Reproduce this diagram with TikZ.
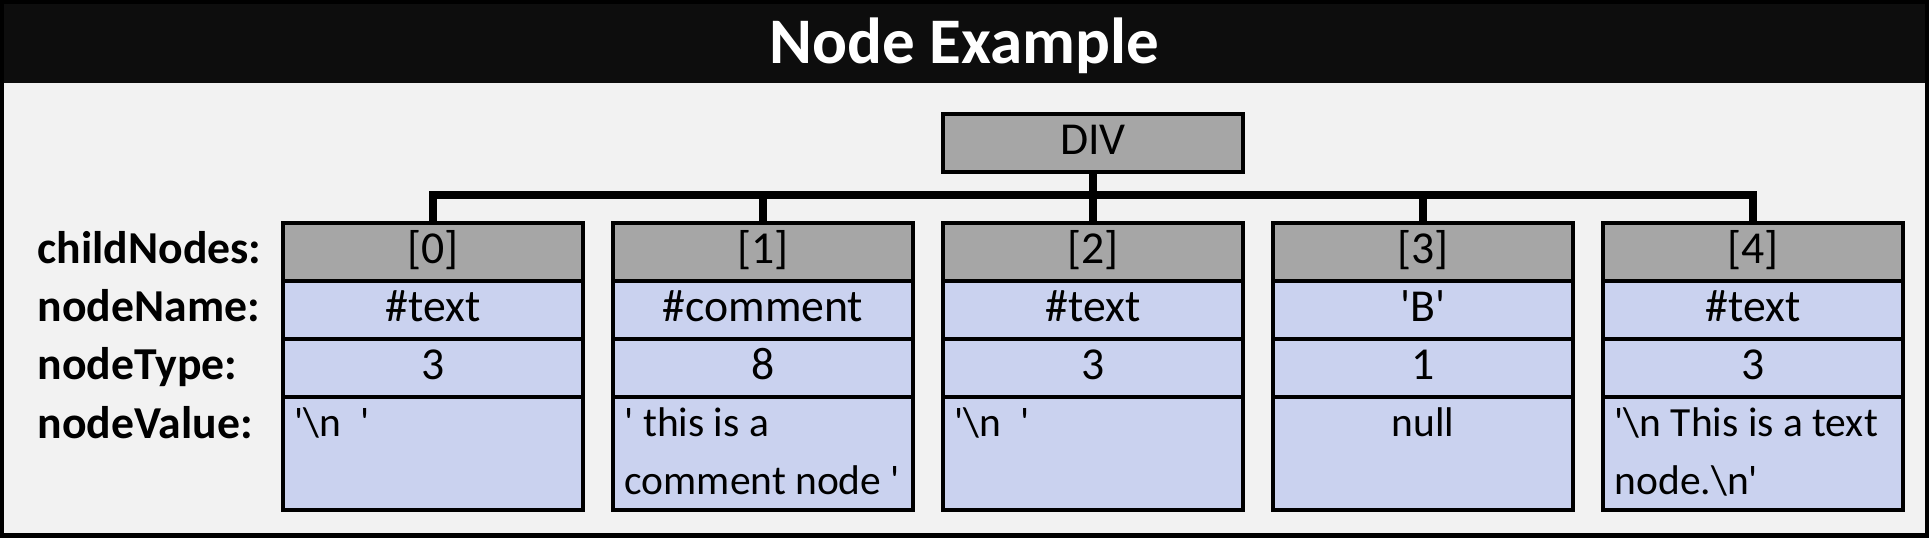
\documentclass[tikz,border=0pt]{standalone}
\usepackage{fontspec}
\setmainfont{Carlito}
\newcommand{\squote}{\textquotesingle}
\newcommand{\bsl}{\textbackslash}
\definecolor{headgray}{HTML}{A6A6A6}
\definecolor{cellblue}{HTML}{CAD2EF}
\definecolor{panelbg}{HTML}{F2F2F2}
\definecolor{titlebg}{HTML}{0D0D0D}

\begin{document}
\begin{tikzpicture}[x=0.01cm,y=-0.01cm,
    cell/.style={draw=black,line width=0.04cm,minimum width=3cm,minimum height=0.58cm,inner sep=0pt,
      text height=10pt,text depth=3.74pt,font=\fontsize{13}{16.5}\selectfont},
    head/.style={cell,fill=headgray},
    row/.style={cell,fill=cellblue},
    valbox/.style={draw=black,line width=0.04cm,fill=cellblue,minimum width=3cm,minimum height=1.13cm,inner sep=0pt},
    valtext/.style={anchor=base west,inner sep=0pt,text width=2.9cm,align=flush left,font=\fontsize{11.8}{16.5}\selectfont},
    lbl/.style={anchor=base west,inner sep=0pt,font=\fontsize{13}{16}\selectfont\bfseries},
    link/.style={line width=0.08cm}]
            \def\pitch{330}
            \def\first{433}

            \useasboundingbox (0,0) rectangle (1929,538);
            \fill[black] (0,0) rectangle (1929,538);
            \fill[titlebg] (4,4) rectangle (1925,83);
            \fill[panelbg] (4,83) rectangle (1925,533);

            \node[anchor=base,inner sep=0pt,text=white,font=\fontsize{18.5}{22}\selectfont\bfseries] (title) at (964.5,63) {Node Example};

            \node[head] (div) at (1093,143) {DIV};

            \foreach \i/\nm/\ty in {0/\#text/3,1/\#comment/8,2/\#text/3,3/{\squote B\squote}/1,4/\#text/3} {
                \pgfmathsetmacro{\cx}{\first+\pitch*\i}
                \node[head] (h\i) at (\cx,252) {[\i]};
                \node[row] (n\i) at (\cx,310) {\nm};
                \node[row] (t\i) at (\cx,368) {\ty};
                \node[valbox] (v\i) at (\cx,453.5) {};
            }

            \node[valtext] (vt0) at ([xshift=0.13cm,yshift=-0.41cm]v0.north west) {\squote\bsl n\ \ \squote};
            \node[valtext] (vt1) at ([xshift=0.13cm,yshift=-0.41cm]v1.north west) {\squote\ this is a\\comment node \squote};
            \node[valtext] (vt2) at ([xshift=0.13cm,yshift=-0.41cm]v2.north west) {\squote\bsl n\ \ \squote};
            \node[anchor=base,inner sep=0pt,font=\fontsize{11.8}{16.5}\selectfont] (vt3) at ([yshift=-0.41cm]v3.north) {null};
            \node[valtext] (vt4) at ([xshift=0.13cm,yshift=-0.41cm]v4.north west) {\squote\bsl n This is a text\\node.\bsl n\squote};

            \node[lbl] (lchild) at (37,263) {childNodes:};
            \node[lbl] (lname) at (37,321) {nodeName:};
            \node[lbl] (ltype) at (37,379) {nodeType:};
            \node[lbl] (lvalue) at (37,438) {nodeValue:};

            \coordinate (bus) at (0,195);
            \draw[link] (h0.north) -- (h0.north |- bus) -- (h4.north |- bus) -- (h4.north);
            \foreach \i in {1,2,3} \draw[link] (h\i.north) -- (h\i.north |- bus);
            \draw[link] (div.south) -- (div.south |- bus);
        \end{tikzpicture}
\end{document}
